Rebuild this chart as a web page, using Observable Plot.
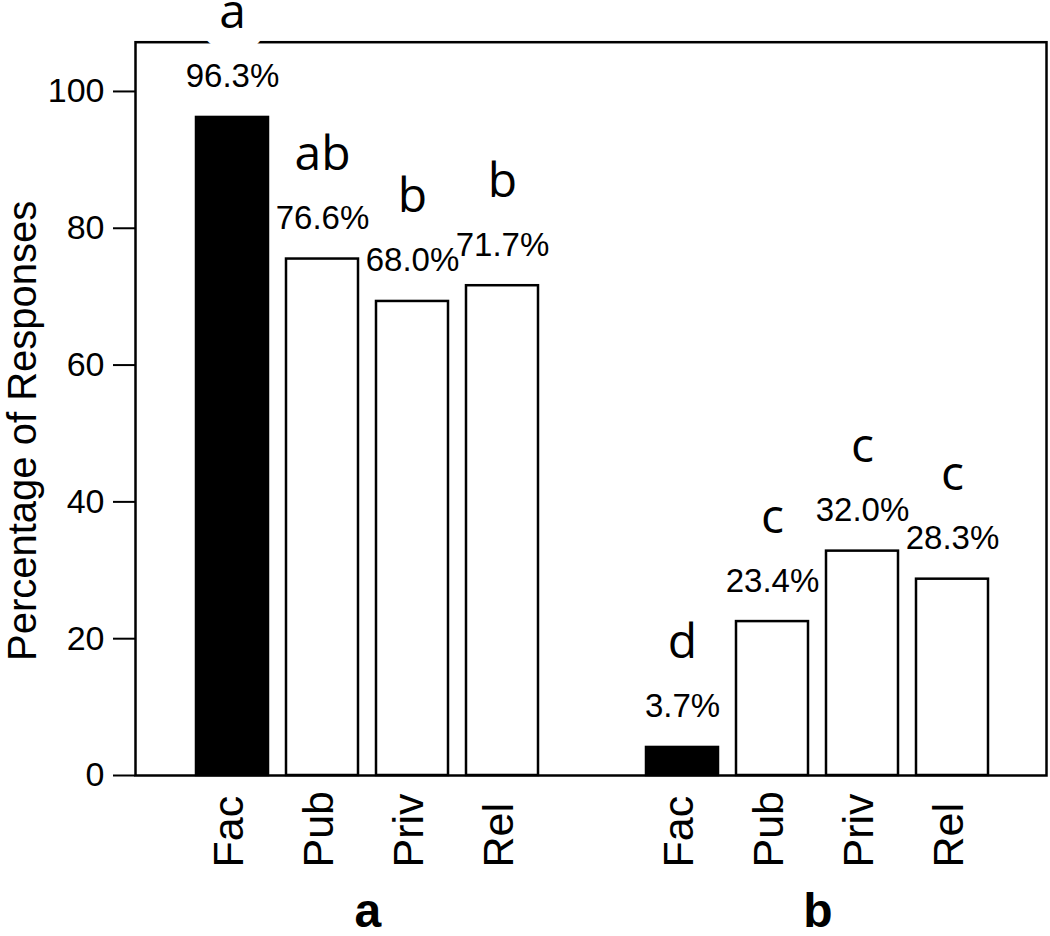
<!DOCTYPE html>
<html>
<head>
<meta charset="utf-8">
<script src="https://cdn.jsdelivr.net/npm/d3@7"></script>
<script src="https://cdn.jsdelivr.net/npm/@observablehq/plot@0.6"></script>
<style>
  html, body { margin: 0; padding: 0; background: #fff; }
  #chart { width: 1050px; height: 936px; }
</style>
</head>
<body>
<div id="chart"></div>
<script>
// ---- data ----
const groups = ["a", "b"];
const categories = ["Fac", "Pub", "Priv", "Rel"];
// bar heights as drawn (percent)
const barsA = [96.2, 75.5, 69.3, 71.6];
const barsB = [4.1, 22.5, 32.8, 28.7];
// printed percentage labels
const pctA = [96.3, 76.6, 68.0, 71.7];
const pctB = [3.7, 23.4, 32.0, 28.3];
// significance letters
const lettersA = ["a", "ab", "b", "b"];
const lettersB = ["d", "c", "c", "c"];
const yTicks = [0, 20, 40, 60, 80, 100];
const yTitle = "Percentage of Responses";

// ---- table built from the arrays ----
const rows = [];
const series = {a: [barsA, pctA, lettersA], b: [barsB, pctB, lettersB]};
for (const g of groups) {
  const [h, p, l] = series[g];
  categories.forEach((c, i) => rows.push({group: g, cat: c, key: g + "|" + c, h: h[i], pct: p[i], letter: l[i]}));
}
const domain = [...categories.map(c => "a|" + c), "gap", ...categories.map(c => "b|" + c)];
const groupRows = groups.map(g => ({g, key: g + "|Pub"}));

const chart = Plot.plot({
  width: 1050,
  height: 936,
  marginLeft: 135,
  marginRight: 4,
  marginTop: 41.7,
  marginBottom: 161,
  style: {fontFamily: "'Liberation Sans', Arial, sans-serif", background: "white", color: "black"},
  x: {type: "band", domain, range: [184.4, 1000.1], paddingInner: 0.2, paddingOuter: 0.1, axis: null},
  y: {domain: [0, 107.2], axis: null},
  color: {type: "identity"},
  marks: [
    Plot.barY(rows, {x: "key", y: "h", fill: d => d.cat === "Fac" ? "black" : "white", stroke: "black", strokeWidth: 2.5}),
    Plot.frame({stroke: "black", strokeWidth: 2.5}),
    Plot.axisY({ticks: yTicks, tickSize: 22, tickPadding: 9, fontSize: 34, label: null, strokeWidth: 2}),
    Plot.text(rows, {x: "key", y: "h", text: "letter", dy: -89, lineAnchor: "bottom",
      fontFamily: "'Open Sans', sans-serif", fontSize: 48,
      stroke: "white", strokeWidth: 44, paintOrder: "stroke", strokeLinejoin: "round", fill: "black"}),
    Plot.text(rows, {x: "key", y: "h", text: d => d.pct.toFixed(1) + "%", dy: -30, lineAnchor: "bottom", fontSize: 33}),
    Plot.text(rows, {x: "key", text: "cat", frameAnchor: "bottom", dy: 92, dx: -3, rotate: -90,
      textAnchor: "start", lineAnchor: "middle", fontSize: 43}),
    Plot.text(groupRows, {x: "key", text: "g", frameAnchor: "bottom", dy: 151, dx: 45.3,
      lineAnchor: "bottom", fontSize: 48, fontWeight: "bold"}),
    Plot.text([yTitle], {text: d => d, frameAnchor: "left", rotate: -90, textAnchor: "middle",
      lineAnchor: "bottom", dx: -100, dy: 22, fontSize: 40})
  ]
});
document.getElementById("chart").appendChild(chart);
</script>
</body>
</html>
